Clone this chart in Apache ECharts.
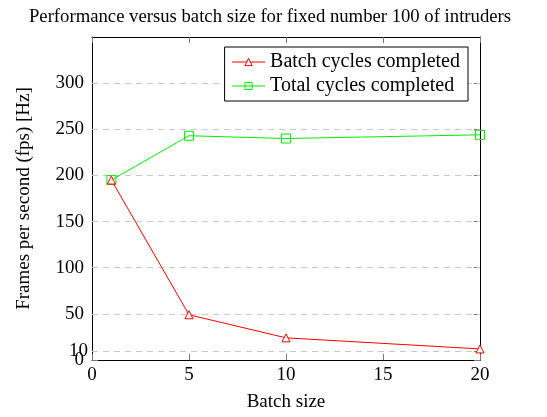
<!DOCTYPE html>
<html>
<head>
<meta charset="utf-8">
<script src="https://cdn.jsdelivr.net/npm/echarts@6/dist/echarts.min.js"></script>
<style>
  html, body { margin: 0; padding: 0; background: #fff; }
  #chart { width: 547px; height: 417px; }
</style>
</head>
<body>
<div id="chart"></div>
<script>
    var batchSizes = [1, 5, 10, 20];
    var batchCycles = [195, 49, 24, 12];
    var totalCycles = [195, 243, 240, 244];
    var yTicks = [0, 10, 50, 100, 150, 200, 250, 300];
    var xTicks = [0, 5, 10, 15, 20];

    var font = 'Liberation Serif';
    var red = '#ff0000';
    var green = '#00ee00';
    function pairs(ys) {
        var out = [];
        for (var i = 0; i < batchSizes.length; i++) {
            out.push([batchSizes[i], ys[i]]);
        }
        return out;
    }
    // 网格线：每个 y 刻度一条虚线；10 这条的标签单独画，避免被坐标轴隐藏
    var gridLines = [];
    var yLabelVals = [];
    for (var i = 0; i < yTicks.length; i++) {
        if (yTicks[i] == 10) {
            gridLines.push({yAxis: yTicks[i], label: {show: true}});
        } else {
            yLabelVals.push(yTicks[i]);
            if (yTicks[i] > 0) gridLines.push({yAxis: yTicks[i]});
        }
    }
    var tickStyle = {inside: true, length: 6, lineStyle: {color: '#777'}};

    var chart = echarts.init(document.getElementById('chart'));
    var option = {
        animation: false,
        textStyle: {fontFamily: font, color: '#000'},
        title: {
            text: 'Performance versus batch size for fixed number 100 of intruders',
            left: 265,
            textAlign: 'center',
            top: 3,
            textStyle: {fontFamily: font, fontSize: 18.7, fontWeight: 'normal', color: '#000'}
        },
        legend: {
            right: 79,
            top: 47,
            orient: 'vertical',
            align: 'left',
            itemGap: 4,
            itemWidth: 33,
            itemHeight: 9,
            padding: [5, 8, 5, 7],
            borderColor: '#000',
            borderWidth: 1,
            borderRadius: 0,
            backgroundColor: '#fff',
            lineStyle: {width: 1},
            itemStyle: {borderWidth: 1},
            textStyle: {fontFamily: font, fontSize: 20, color: '#000'},
            data: ['Batch cycles completed', 'Total cycles completed']
        },
        grid: {left: 92, right: 67, top: 37, bottom: 57, outerBoundsMode: 'none'},
        xAxis: [{
            type: 'value',
            min: 0,
            max: 20,
            interval: 5,
            name: 'Batch size',
            nameLocation: 'middle',
            nameGap: 33,
            nameTextStyle: {fontFamily: font, fontSize: 19, color: '#000'},
            axisLine: {onZero: false, lineStyle: {color: '#000', width: 1}},
            axisTick: tickStyle,
            axisLabel: {fontFamily: font, fontSize: 19, color: '#000', margin: 6},
            splitLine: {show: false}
        }, {
            type: 'value',
            position: 'top',
            min: 0,
            max: 20,
            interval: 5,
            axisLine: {onZero: false, lineStyle: {color: '#000', width: 1}},
            axisTick: tickStyle,
            axisLabel: {show: false},
            splitLine: {show: false}
        }],
        yAxis: [{
            type: 'value',
            min: 0,
            max: 350,
            name: 'Frames per second (fps) [Hz]',
            nameLocation: 'middle',
            nameGap: 58,
            nameTextStyle: {fontFamily: font, fontSize: 19, color: '#000'},
            axisLine: {show: true, onZero: false, lineStyle: {color: '#000', width: 1}},
            axisTick: {inside: true, length: 6, customValues: yTicks, lineStyle: {color: '#777'}},
            axisLabel: {fontFamily: font, fontSize: 19, color: '#000', customValues: yLabelVals,
                        margin: 8, showMinLabel: true, hideOverlap: false},
            splitLine: {show: false}
        }, {
            type: 'value',
            position: 'right',
            min: 0,
            max: 350,
            axisLine: {show: true, onZero: false, lineStyle: {color: '#000', width: 1}},
            axisTick: {inside: true, length: 6, customValues: yTicks, lineStyle: {color: '#777'}},
            axisLabel: {show: false},
            splitLine: {show: false}
        }],
        series: [{
            name: 'Batch cycles completed',
            type: 'line',
            data: pairs(batchCycles),
            symbol: 'triangle',
            symbolSize: 8,
            lineStyle: {width: 1, color: red},
            itemStyle: {color: '#fff', borderColor: red, borderWidth: 1},
            z: 3,
            markLine: {
                silent: true,
                symbol: 'none',
                label: {show: false, position: 'start', distance: 4, formatter: '{c}',
                        fontFamily: font, fontSize: 19, color: '#000'},
                lineStyle: {color: '#c8c8c8', type: [6, 5], width: 1.2},
                data: gridLines,
                z: 1
            }
        }, {
            name: 'Total cycles completed',
            type: 'line',
            data: pairs(totalCycles),
            symbol: 'rect',
            symbolSize: 9,
            lineStyle: {width: 1, color: green},
            itemStyle: {color: 'rgba(255,255,255,0)', borderColor: green, borderWidth: 1},
            z: 2
        }]
    };
    chart.setOption(option);
</script>
</body>
</html>
